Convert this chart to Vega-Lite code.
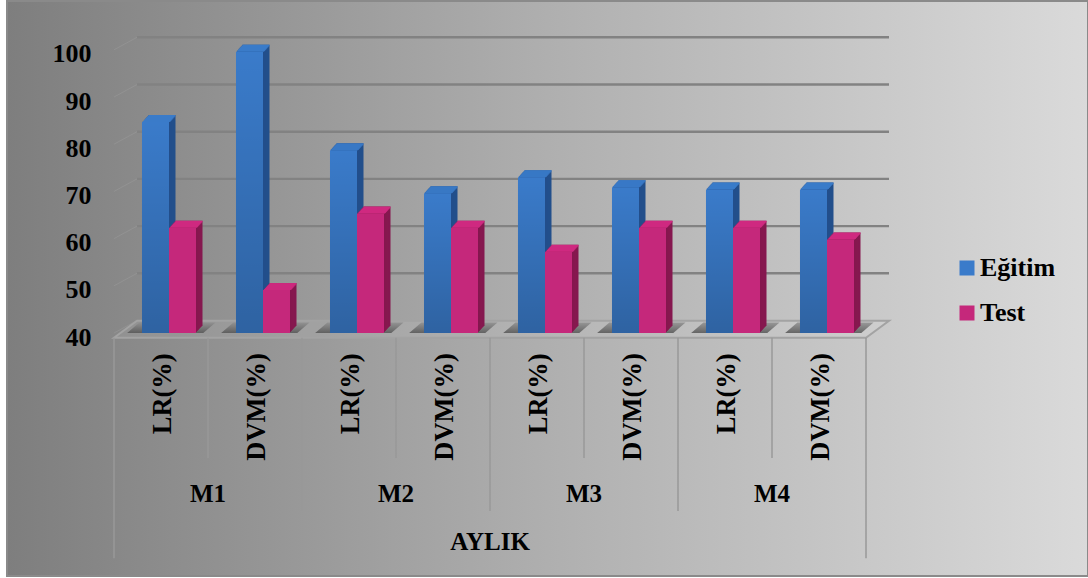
{
"$schema":"https://vega.github.io/schema/vega-lite/v6.json",
"autosize":{"type":"none"},
"padding":{"left":7,"top":1,"right":0,"bottom":2},
"width":1081,"height":575,
"background":"#ffffff",
"view":{"stroke":"#8a8a8a","strokeWidth":2,"fill":{"gradient":"linear","x1":0,"y1":0,"x2":1,"y2":0,"stops":[{"offset":0,"color":"#7e7e7e"},{"offset":0.5,"color":"#afafaf"},{"offset":1,"color":"#dadada"}]}},
"config":{"text":{"font":"Liberation Serif","fontWeight":"bold","fontSize":25,"color":"#000000"}},
"datasets":{
"bars":[
{"ay":"M1","model":"LR(%)","key":"M1 LR","series":"Eğitim","value":84.7},
{"ay":"M1","model":"LR(%)","key":"M1 LR","series":"Test","value":62.3},
{"ay":"M1","model":"DVM(%)","key":"M1 DVM","series":"Eğitim","value":99.6},
{"ay":"M1","model":"DVM(%)","key":"M1 DVM","series":"Test","value":49.1},
{"ay":"M2","model":"LR(%)","key":"M2 LR","series":"Eğitim","value":78.7},
{"ay":"M2","model":"LR(%)","key":"M2 LR","series":"Test","value":65.3},
{"ay":"M2","model":"DVM(%)","key":"M2 DVM","series":"Eğitim","value":69.6},
{"ay":"M2","model":"DVM(%)","key":"M2 DVM","series":"Test","value":62.3},
{"ay":"M3","model":"LR(%)","key":"M3 LR","series":"Eğitim","value":73},
{"ay":"M3","model":"LR(%)","key":"M3 LR","series":"Test","value":57.2},
{"ay":"M3","model":"DVM(%)","key":"M3 DVM","series":"Eğitim","value":70.9},
{"ay":"M3","model":"DVM(%)","key":"M3 DVM","series":"Test","value":62.3},
{"ay":"M4","model":"LR(%)","key":"M4 LR","series":"Eğitim","value":70.4},
{"ay":"M4","model":"LR(%)","key":"M4 LR","series":"Test","value":62.3},
{"ay":"M4","model":"DVM(%)","key":"M4 DVM","series":"Eğitim","value":70.4},
{"ay":"M4","model":"DVM(%)","key":"M4 DVM","series":"Test","value":59.8}
],
"levels":[{"level":40},{"level":50},{"level":60},{"level":70},{"level":80},{"level":90},{"level":100}],
"floor":[{"pos":0,"top":39,"bottom":39},{"pos":0.245,"top":42.6,"bottom":39},{"pos":8,"top":42.6,"bottom":39},{"pos":8.245,"top":42.6,"bottom":42.6}],
"shadow":[
{"g":0,"pos":0.14,"top":40,"bottom":40},{"g":0,"pos":0.27,"top":42.2,"bottom":40},{"g":0,"pos":0.95,"top":42.2,"bottom":40},{"g":0,"pos":1.08,"top":42.2,"bottom":42.2},
{"g":1,"pos":1.14,"top":40,"bottom":40},{"g":1,"pos":1.27,"top":42.2,"bottom":40},{"g":1,"pos":1.95,"top":42.2,"bottom":40},{"g":1,"pos":2.08,"top":42.2,"bottom":42.2},
{"g":2,"pos":2.14,"top":40,"bottom":40},{"g":2,"pos":2.27,"top":42.2,"bottom":40},{"g":2,"pos":2.95,"top":42.2,"bottom":40},{"g":2,"pos":3.08,"top":42.2,"bottom":42.2},
{"g":3,"pos":3.14,"top":40,"bottom":40},{"g":3,"pos":3.27,"top":42.2,"bottom":40},{"g":3,"pos":3.95,"top":42.2,"bottom":40},{"g":3,"pos":4.08,"top":42.2,"bottom":42.2},
{"g":4,"pos":4.14,"top":40,"bottom":40},{"g":4,"pos":4.27,"top":42.2,"bottom":40},{"g":4,"pos":4.95,"top":42.2,"bottom":40},{"g":4,"pos":5.08,"top":42.2,"bottom":42.2},
{"g":5,"pos":5.14,"top":40,"bottom":40},{"g":5,"pos":5.27,"top":42.2,"bottom":40},{"g":5,"pos":5.95,"top":42.2,"bottom":40},{"g":5,"pos":6.08,"top":42.2,"bottom":42.2},
{"g":6,"pos":6.14,"top":40,"bottom":40},{"g":6,"pos":6.27,"top":42.2,"bottom":40},{"g":6,"pos":6.95,"top":42.2,"bottom":40},{"g":6,"pos":7.08,"top":42.2,"bottom":42.2},
{"g":7,"pos":7.14,"top":40,"bottom":40},{"g":7,"pos":7.27,"top":42.2,"bottom":40},{"g":7,"pos":7.95,"top":42.2,"bottom":40},{"g":7,"pos":8.08,"top":42.2,"bottom":42.2}
],
"separators":[
{"pos":0,"from":39,"to":-7.7},{"pos":1,"from":39,"to":13.5},{"pos":2,"from":39,"to":2.3},{"pos":3,"from":39,"to":13.5},{"pos":4,"from":39,"to":2.3},
{"pos":5,"from":39,"to":13.5},{"pos":6,"from":39,"to":2.3},{"pos":7,"from":39,"to":13.5},{"pos":8,"from":39,"to":-7.7}
],
"months":[{"label":"M1","pos":1,"lane":5.9},{"label":"M2","pos":3,"lane":5.9},{"label":"M3","pos":5,"lane":5.9},{"label":"M4","pos":7,"lane":5.9},{"label":"AYLIK","pos":4,"lane":-4.2}],
"models":[
{"key":"M1 LR","model":"LR(%)"},{"key":"M1 DVM","model":"DVM(%)"},{"key":"M2 LR","model":"LR(%)"},{"key":"M2 DVM","model":"DVM(%)"},
{"key":"M3 LR","model":"LR(%)"},{"key":"M3 DVM","model":"DVM(%)"},{"key":"M4 LR","model":"LR(%)"},{"key":"M4 DVM","model":"DVM(%)"}
]
},
"resolve":{"scale":{"x":"independent"}},
"layer":[
{
"layer":[
{"data":{"name":"floor"},"mark":{"type":"area","fill":"#ffffff","fillOpacity":0.08,"stroke":"#a3a3a3","strokeWidth":2},
"encoding":{"x":{"field":"pos","type":"quantitative","scale":{"domain":[0,8],"range":[107,859]},"axis":null},"y":{"field":"top","type":"quantitative","scale":{"domain":[40,100],"range":[332,48.8],"zero":false,"clamp":false,"nice":false},"axis":{"orient":"left","offset":-91,"values":[40,50,60,70,80,90,100],"domain":false,"ticks":false,"grid":false,"title":null,"labelPadding":7,"labelOffset":4,"labelFont":"Liberation Serif","labelFontWeight":"bold","labelFontSize":26,"labelColor":"#000000","labelBaseline":"middle","labelOverlap":false}},"y2":{"field":"bottom"}}},
{"data":{"name":"shadow"},"mark":{"type":"area","color":{"gradient":"linear","x1":0,"y1":0,"x2":0,"y2":1,"stops":[{"offset":0,"color":"#8f8f8f"},{"offset":1,"color":"#555555"}]},"opacity":0.85},
"encoding":{"x":{"field":"pos","type":"quantitative"},"y":{"field":"top","type":"quantitative"},"y2":{"field":"bottom"},"detail":{"field":"g"}}},
{"data":{"name":"levels"},"transform":[{"filter":"datum.level > 40"}],"mark":{"type":"rule","color":"#828282","strokeWidth":2.4,"xOffset":23,"x2Offset":23,"yOffset":-12.5,"y2Offset":-12.5},
"encoding":{"x":{"datum":0,"type":"quantitative"},"x2":{"datum":8},"y":{"field":"level","type":"quantitative"},"y2":{"field":"level"}}},
{"data":{"name":"levels"},"mark":{"type":"rule","color":"#a0a0a0","strokeWidth":1,"opacity":0.4,"y2Offset":-12.5},
"encoding":{"x":{"datum":0,"type":"quantitative"},"x2":{"datum":0.245},"y":{"field":"level","type":"quantitative"},"y2":{"field":"level"}}},
{"data":{"name":"separators"},"mark":{"type":"rule","color":"#989898","strokeWidth":1.5},
"encoding":{"x":{"field":"pos","type":"quantitative"},"y":{"field":"from","type":"quantitative"},"y2":{"field":"to"}}},
{"data":{"name":"months"},"mark":{"type":"text","baseline":"middle"},
"encoding":{"x":{"field":"pos","type":"quantitative"},"y":{"field":"lane","type":"quantitative"},"text":{"field":"label"}}}
]
},
{
"data":{"name":"bars"},
"encoding":{
"x":{"field":"key","type":"nominal","axis":null,"sort":null,"scale":{"domain":["M1 LR","M1 DVM","M2 LR","M2 DVM","M3 LR","M3 DVM","M4 LR","M4 DVM"],"range":[107,859],"paddingInner":0,"paddingOuter":0}},
"y":{"field":"value","type":"quantitative","stack":null}
},
"resolve":{"scale":{"xOffset":"independent"}},
"layer":[
{"mark":{"type":"bar","yOffset":-7,"y2Offset":-7},"encoding":{"xOffset":{"field":"series","scale":{"domain":["Eğitim","Test"],"range":[14.5,108.5],"paddingInner":0,"paddingOuter":0.74}},"y2":{"datum":40},"color":{"condition":{"test":"datum.series==='Test'","value":"#86184f"},"value":"#234f8c"}}},
{"mark":{"type":"bar","yOffset":-6,"y2Offset":-6},"encoding":{"xOffset":{"field":"series","scale":{"domain":["Eğitim","Test"],"range":[13.6,107.6],"paddingInner":0,"paddingOuter":0.74}},"y2":{"datum":40},"color":{"condition":{"test":"datum.series==='Test'","value":"#86184f"},"value":"#234f8c"}}},
{"mark":{"type":"bar","yOffset":-5,"y2Offset":-5},"encoding":{"xOffset":{"field":"series","scale":{"domain":["Eğitim","Test"],"range":[12.6,106.6],"paddingInner":0,"paddingOuter":0.74}},"y2":{"datum":40},"color":{"condition":{"test":"datum.series==='Test'","value":"#86184f"},"value":"#234f8c"}}},
{"mark":{"type":"bar","yOffset":-4,"y2Offset":-4},"encoding":{"xOffset":{"field":"series","scale":{"domain":["Eğitim","Test"],"range":[11.7,105.7],"paddingInner":0,"paddingOuter":0.74}},"y2":{"datum":40},"color":{"condition":{"test":"datum.series==='Test'","value":"#86184f"},"value":"#234f8c"}}},
{"mark":{"type":"bar","yOffset":-3,"y2Offset":-3},"encoding":{"xOffset":{"field":"series","scale":{"domain":["Eğitim","Test"],"range":[10.8,104.8],"paddingInner":0,"paddingOuter":0.74}},"y2":{"datum":40},"color":{"condition":{"test":"datum.series==='Test'","value":"#86184f"},"value":"#234f8c"}}},
{"mark":{"type":"bar","yOffset":-2,"y2Offset":-2},"encoding":{"xOffset":{"field":"series","scale":{"domain":["Eğitim","Test"],"range":[9.9,103.9],"paddingInner":0,"paddingOuter":0.74}},"y2":{"datum":40},"color":{"condition":{"test":"datum.series==='Test'","value":"#86184f"},"value":"#234f8c"}}},
{"mark":{"type":"bar","yOffset":-1,"y2Offset":-1},"encoding":{"xOffset":{"field":"series","scale":{"domain":["Eğitim","Test"],"range":[8.9,102.9],"paddingInner":0,"paddingOuter":0.74}},"y2":{"datum":40},"color":{"condition":{"test":"datum.series==='Test'","value":"#86184f"},"value":"#234f8c"}}},
{"mark":{"type":"bar","yOffset":-7,"y2Offset":-5.5},"encoding":{"xOffset":{"field":"series","scale":{"domain":["Eğitim","Test"],"range":[14.5,108.5],"paddingInner":0,"paddingOuter":0.74}},"y2":{"field":"value"},"color":{"condition":{"test":"datum.series==='Test'","value":"#cf2a80"},"value":"#3a7bc9"}}},
{"mark":{"type":"bar","yOffset":-6,"y2Offset":-4.5},"encoding":{"xOffset":{"field":"series","scale":{"domain":["Eğitim","Test"],"range":[13.6,107.6],"paddingInner":0,"paddingOuter":0.74}},"y2":{"field":"value"},"color":{"condition":{"test":"datum.series==='Test'","value":"#cf2a80"},"value":"#3a7bc9"}}},
{"mark":{"type":"bar","yOffset":-5,"y2Offset":-3.5},"encoding":{"xOffset":{"field":"series","scale":{"domain":["Eğitim","Test"],"range":[12.6,106.6],"paddingInner":0,"paddingOuter":0.74}},"y2":{"field":"value"},"color":{"condition":{"test":"datum.series==='Test'","value":"#cf2a80"},"value":"#3a7bc9"}}},
{"mark":{"type":"bar","yOffset":-4,"y2Offset":-2.5},"encoding":{"xOffset":{"field":"series","scale":{"domain":["Eğitim","Test"],"range":[11.7,105.7],"paddingInner":0,"paddingOuter":0.74}},"y2":{"field":"value"},"color":{"condition":{"test":"datum.series==='Test'","value":"#cf2a80"},"value":"#3a7bc9"}}},
{"mark":{"type":"bar","yOffset":-3,"y2Offset":-1.5},"encoding":{"xOffset":{"field":"series","scale":{"domain":["Eğitim","Test"],"range":[10.8,104.8],"paddingInner":0,"paddingOuter":0.74}},"y2":{"field":"value"},"color":{"condition":{"test":"datum.series==='Test'","value":"#cf2a80"},"value":"#3a7bc9"}}},
{"mark":{"type":"bar","yOffset":-2,"y2Offset":-0.5},"encoding":{"xOffset":{"field":"series","scale":{"domain":["Eğitim","Test"],"range":[9.9,103.9],"paddingInner":0,"paddingOuter":0.74}},"y2":{"field":"value"},"color":{"condition":{"test":"datum.series==='Test'","value":"#cf2a80"},"value":"#3a7bc9"}}},
{"mark":{"type":"bar","yOffset":-1,"y2Offset":0},"encoding":{"xOffset":{"field":"series","scale":{"domain":["Eğitim","Test"],"range":[8.9,102.9],"paddingInner":0,"paddingOuter":0.74}},"y2":{"field":"value"},"color":{"condition":{"test":"datum.series==='Test'","value":"#cf2a80"},"value":"#3a7bc9"}}},
{"mark":{"type":"bar"},"encoding":{"xOffset":{"field":"series","scale":{"domain":["Eğitim","Test"],"range":[8,102],"paddingInner":0,"paddingOuter":0.74}},"y2":{"datum":40},"color":{"field":"series","type":"nominal","scale":{"domain":["Eğitim","Test"],"range":["#3a7bca","#c5287b"]},"legend":{"orient":"none","legendX":947,"legendY":254,"title":null,"symbolType":"square","symbolSize":225,"symbolStrokeWidth":0,"labelFont":"Liberation Serif","labelFontWeight":"bold","labelFontSize":26,"labelColor":"#000000","labelOffset":0,"rowPadding":19,"padding":0}}}},
{"transform":[{"filter":"datum.series==='Eğitim'"}],"mark":{"type":"bar","color":{"gradient":"linear","x1":0,"y1":0,"x2":0,"y2":1,"stops":[{"offset":0,"color":"rgba(0,0,0,0)"},{"offset":1,"color":"rgba(0,0,0,0.2)"}]}},"encoding":{"xOffset":{"field":"series","scale":{"domain":["Eğitim","Test"],"range":[8,102],"paddingInner":0,"paddingOuter":0.74}},"y2":{"datum":40}}}
]
},
{
"data":{"name":"models"},
"mark":{"type":"text","angle":270,"align":"right","baseline":"middle","fontSize":26.5},
"encoding":{"x":{"field":"key","type":"nominal","axis":null,"sort":null,"scale":{"domain":["M1 LR","M1 DVM","M2 LR","M2 DVM","M3 LR","M3 DVM","M4 LR","M4 DVM"],"range":[108.5,860.5],"paddingInner":0,"paddingOuter":0}},"y":{"datum":35.7,"type":"quantitative"},"text":{"field":"model"}}
}
]
}
